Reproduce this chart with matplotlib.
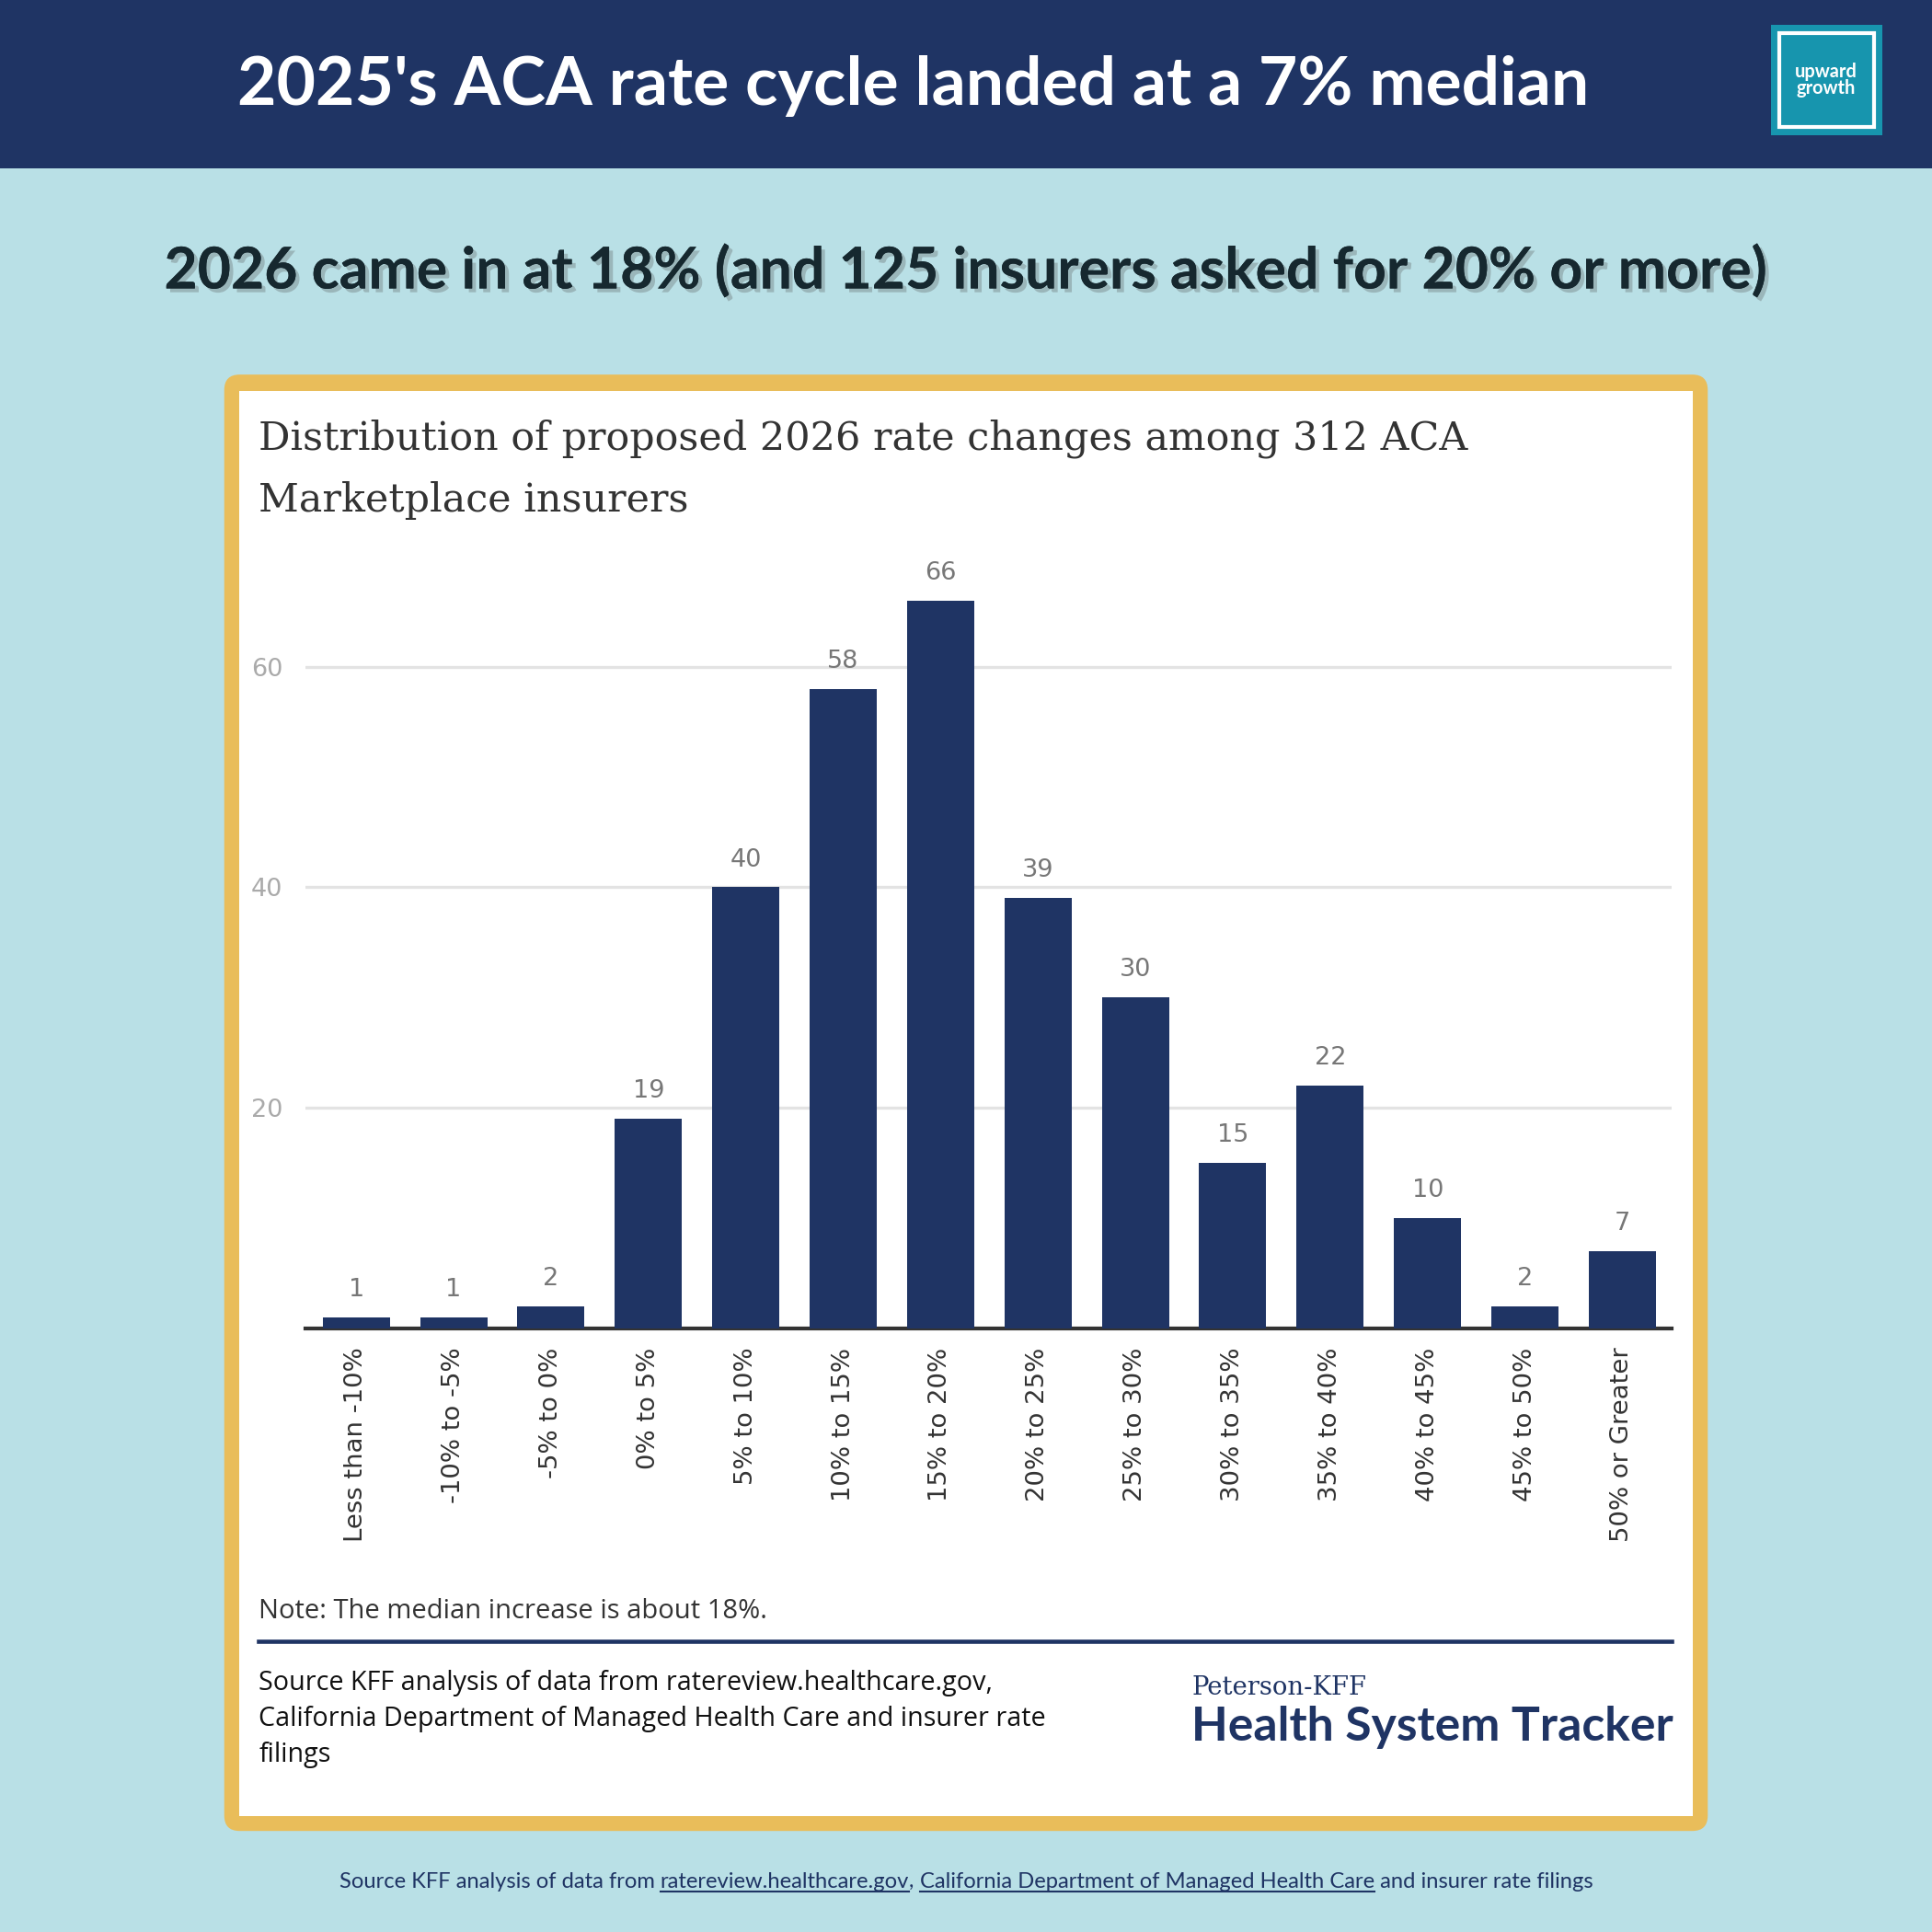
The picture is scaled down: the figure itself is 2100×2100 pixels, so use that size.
import matplotlib
matplotlib.use("Agg")
import matplotlib.pyplot as plt
from matplotlib.patches import FancyBboxPatch, Rectangle
import matplotlib.patheffects as pe

# ---- data ----
categories = ["Less than -10%", "-10% to -5%", "-5% to 0%", "0% to 5%", "5% to 10%",
              "10% to 15%", "15% to 20%", "20% to 25%", "25% to 30%", "30% to 35%",
              "35% to 40%", "40% to 45%", "45% to 50%", "50% or Greater"]
insurers = [1, 1, 2, 19, 40, 58, 66, 39, 30, 15, 22, 10, 2, 7]
y_ticks = [20, 40, 60]

header_title = "2025's ACA rate cycle landed at a 7% median"
subtitle = "2026 came in at 18% (and 125 insurers asked for 20% or more)"
chart_title = "Distribution of proposed 2026 rate changes among 312 ACA\nMarketplace insurers"
note_text = "Note: The median increase is about 18%."
source_text = ("Source KFF analysis of data from ratereview.healthcare.gov,\n"
               "California Department of Managed Health Care and insurer rate\nfilings")

NAVY = "#1f3464"
BG = "#b9e0e6"
YELLOW = "#e9bd5a"
TEAL = "#1795ae"

fig = plt.figure(figsize=(7, 7), dpi=300)
fig.patch.set_facecolor(BG)

def fy(px):  # convert top-based px (1568 scale) to figure fraction
    return 1 - px / 1568.0

def fx(px):
    return px / 1568.0

# header band
fig.add_artist(Rectangle((0, fy(137)), 1, 137 / 1568.0, transform=fig.transFigure,
                         facecolor=NAVY, edgecolor="none", zorder=0))
fig.text(fx(741), fy(70), header_title, ha="center", va="center", color="white",
         fontsize=17.6, fontweight="bold", family=["Lato", "DejaVu Sans"])

# logo
fig.add_artist(Rectangle((fx(1437), fy(110)), fx(91), 90 / 1568.0, transform=fig.transFigure,
                         facecolor=TEAL, edgecolor="none", zorder=1))
fig.add_artist(Rectangle((fx(1444), fy(103)), fx(77), 76 / 1568.0, transform=fig.transFigure,
                         facecolor="none", edgecolor="white", linewidth=1.0, zorder=2))
fig.text(fx(1482), fy(65), "upward\ngrowth", ha="center", va="center", color="white",
         fontsize=4.8, fontweight="bold", family=["Lato", "DejaVu Sans"], linespacing=0.85,
         zorder=3)

# subtitle
fig.text(fx(784), fy(220), subtitle, ha="center", va="center", color="#16282f",
         fontsize=15, fontweight="bold", family=["Lato", "DejaVu Sans"],
         path_effects=[pe.withSimplePatchShadow(offset=(1.0, -1.0), shadow_rgbFace="#555555", alpha=0.3),
                       pe.Normal()])

# card
fig.add_artist(FancyBboxPatch((fx(182), fy(1486)), fx(1386 - 182), (1486 - 304) / 1568.0,
                              boxstyle="round,pad=0,rounding_size=0.008",
                              transform=fig.transFigure, facecolor=YELLOW, edgecolor="none", zorder=0))
fig.add_artist(Rectangle((fx(194), fy(1474)), fx(1374 - 194), (1474 - 317) / 1568.0,
                         transform=fig.transFigure, facecolor="white", edgecolor="none", zorder=0))

fig.text(fx(210), fy(340), chart_title, ha="left", va="top", color="#333333",
         fontsize=10.3, family=["DejaVu Serif"], linespacing=1.75)

# axes
ax = fig.add_axes([fx(248), fy(1078), fx(1357 - 248), (1078 - 451.5) / 1568.0])
ax.set_facecolor("white")
x = list(range(len(categories)))
bars = ax.bar(x, insurers, width=0.69, color=NAVY, zorder=3)
for xi, v in zip(x, insurers):
    ax.text(xi, v + 1.4, str(v), ha="center", va="bottom", color="#777777", fontsize=6.5,
            family=["DejaVu Sans"])
ax.set_xlim(-0.52, len(categories) - 0.49)
ax.set_ylim(0, 70)
ax.set_yticks(y_ticks)
ax.set_yticklabels([str(t) for t in y_ticks], color="#aaaaaa", fontsize=6.5)
ax.yaxis.grid(True, color="#e3e3e3", linewidth=0.8, zorder=0)
ax.set_xticks(x)
ax.set_xticklabels(categories, rotation=90, fontsize=6.6, color="#333333", va="top")
ax.tick_params(axis="both", length=0)
ax.tick_params(axis="x", pad=5)
ax.tick_params(axis="y", pad=6)
for s in ["top", "right", "left"]:
    ax.spines[s].set_visible(False)
ax.spines["bottom"].set_color("#333333")
ax.spines["bottom"].set_linewidth(1.0)

# note and rule
fig.text(fx(210), fy(1308), note_text, ha="left", va="center", color="#333333", fontsize=7,
         family=["Open Sans", "DejaVu Sans"])
fig.add_artist(plt.Line2D([fx(210), fx(1357)], [fy(1332), fy(1332)], transform=fig.transFigure,
                          color=NAVY, linewidth=1.1))

fig.text(fx(210), fy(1355), source_text, ha="left", va="top", color="#111111", fontsize=6.9,
         family=["Open Sans", "DejaVu Sans"], linespacing=1.45)

fig.text(fx(967), fy(1370), "Peterson-KFF", ha="left", va="center", color=NAVY, fontsize=6.6,
         family=["DejaVu Serif"])
fig.text(fx(967), fy(1402), "Health System Tracker", ha="left", va="center", color=NAVY,
         fontsize=12.4, fontweight="bold", family=["Lato", "DejaVu Sans"])

# footer with underlined links
footer_parts = [("Source KFF analysis of data from ", False),
                ("ratereview.healthcare.gov", True),
                (", ", False),
                ("California Department of Managed Health Care", True),
                (" and insurer rate filings", False)]
renderer = fig.canvas.get_renderer()
fs = 5.7
fam = ["Lato", "DejaVu Sans"]
widths = []
tmp = []
for txt, _ in footer_parts:
    t = fig.text(0, 0, txt, fontsize=fs, family=fam)
    widths.append(t.get_window_extent(renderer).width)
    tmp.append(t)
for t in tmp:
    t.remove()
fig_w = fig.get_figwidth() * fig.dpi
total = sum(widths)
xpos = 0.5 - total / fig_w / 2
ybase = fy(1532)
for (txt, ul), w in zip(footer_parts, widths):
    fig.text(xpos, ybase, txt, ha="left", va="baseline", fontsize=fs, family=fam, color=NAVY)
    if ul:
        fig.add_artist(plt.Line2D([xpos, xpos + w / fig_w], [ybase - 0.0022, ybase - 0.0022],
                                  transform=fig.transFigure, color=NAVY, linewidth=0.5))
    xpos += w / fig_w

fig.savefig("out.png", dpi=300, facecolor=BG)
